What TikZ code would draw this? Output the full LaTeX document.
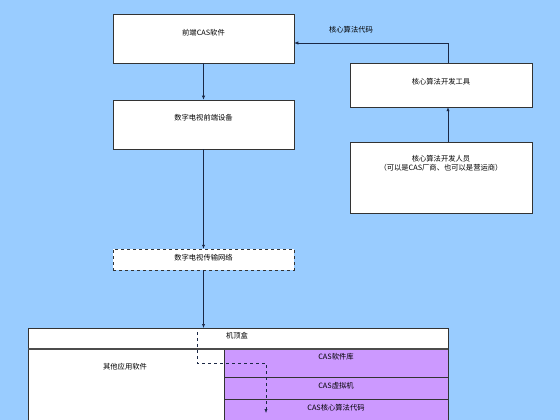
\documentclass[tikz,border=0pt]{standalone}
\usepackage{fontspec}
\setmainfont{Noto Sans CJK SC}
\usetikzlibrary{arrows.meta}
\definecolor{bgblue}{HTML}{99CCFF}
\definecolor{lilac}{HTML}{CC99FF}
\definecolor{navy}{HTML}{1B2845}
\tikzset{
  box/.style={draw=black!80, line width=0.5pt, fill=white, inner sep=0pt},
  txt/.style={font=\fontsize{7.3}{9}\selectfont, inner sep=0pt, align=center},
  conn/.style={draw=navy, line width=0.6pt, -{Latex[length=4pt,width=3.2pt]}},
}
\begin{document}
\begin{tikzpicture}[x=1pt,y=-1pt]
\fill[bgblue] (0,0) rectangle (560,420);
\useasboundingbox (0,0) rectangle (560,420);
\begin{scope}
\clip (0,0) rectangle (560,420);
% boxes
\node[box, minimum width=181pt, minimum height=49pt] (fe) at (203.5,38.5) {};
\node[txt] (fet) at (203.5,32.5) {前端CAS软件};
\node[box, minimum width=181pt, minimum height=49pt] (dev) at (203.5,124.5) {};
\node[txt] (devt) at (203.5,117.5) {数字电视前端设备};
\node[box, dashed, minimum width=181pt, minimum height=21pt] (net) at (203.5,259.5) {};
\node[txt] (nett) at (203.5,258) {数字电视传输网络};
\node[box, minimum width=182pt, minimum height=44pt] (tool) at (441,85) {};
\node[txt] (toolt) at (441,82) {核心算法开发工具};
\node[box, minimum width=182pt, minimum height=71pt] (person) at (441,177.5) {};
\node[txt] (persont) at (441,163) {核心算法开发人员\\（可以是CAS厂商、也可以是营运商）};
\node[txt] (codelbl) at (351,30) {核心算法代码};
% set-top box
\node[box, anchor=north west, minimum width=420pt, minimum height=110pt] (stb) at (28,328) {};
\fill[lilac] (224,349) rectangle (448,440);
\draw[black!80, line width=0.5pt] (224,349) -- (224,440);
\draw[black!80, line width=0.5pt] (224,377) -- (448,377);
\draw[black!80, line width=0.5pt] (224,399) -- (448,399);
\draw[black!80, line width=0.5pt] (448,328) -- (448,440);
\draw[black!70, line width=1.3pt] (28,349) -- (448,349);
\node[txt] (stbt) at (237,336) {机顶盒};
\node[txt] (other) at (125,367) {其他应用软件};
\node[txt] (lib) at (336,357) {CAS软件库};
\node[txt] (vm) at (336,386) {CAS虚拟机};
\node[txt] (core) at (336,408) {CAS核心算法代码};
% connectors
\coordinate (k) at (448,43);
\draw[conn] (fe.south) -- (dev.north);
\draw[conn] (dev.south) -- (net.north);
\draw[conn] (net.south) -- (net.south |- stb.north);
\draw[conn] (k |- person.north) -- (k |- tool.south);
\draw[conn] (k |- tool.north) -- (k) -- (fe.east |- k);
\coordinate (d0) at (197,332);
\coordinate (d1) at (197,363);
\coordinate (d2) at (266,363);
\coordinate (d3) at (266,413);
\draw[conn, dashed] (d0) -- (d1) -- (d2) -- (d3);
\end{scope}
\end{tikzpicture}
\end{document}
